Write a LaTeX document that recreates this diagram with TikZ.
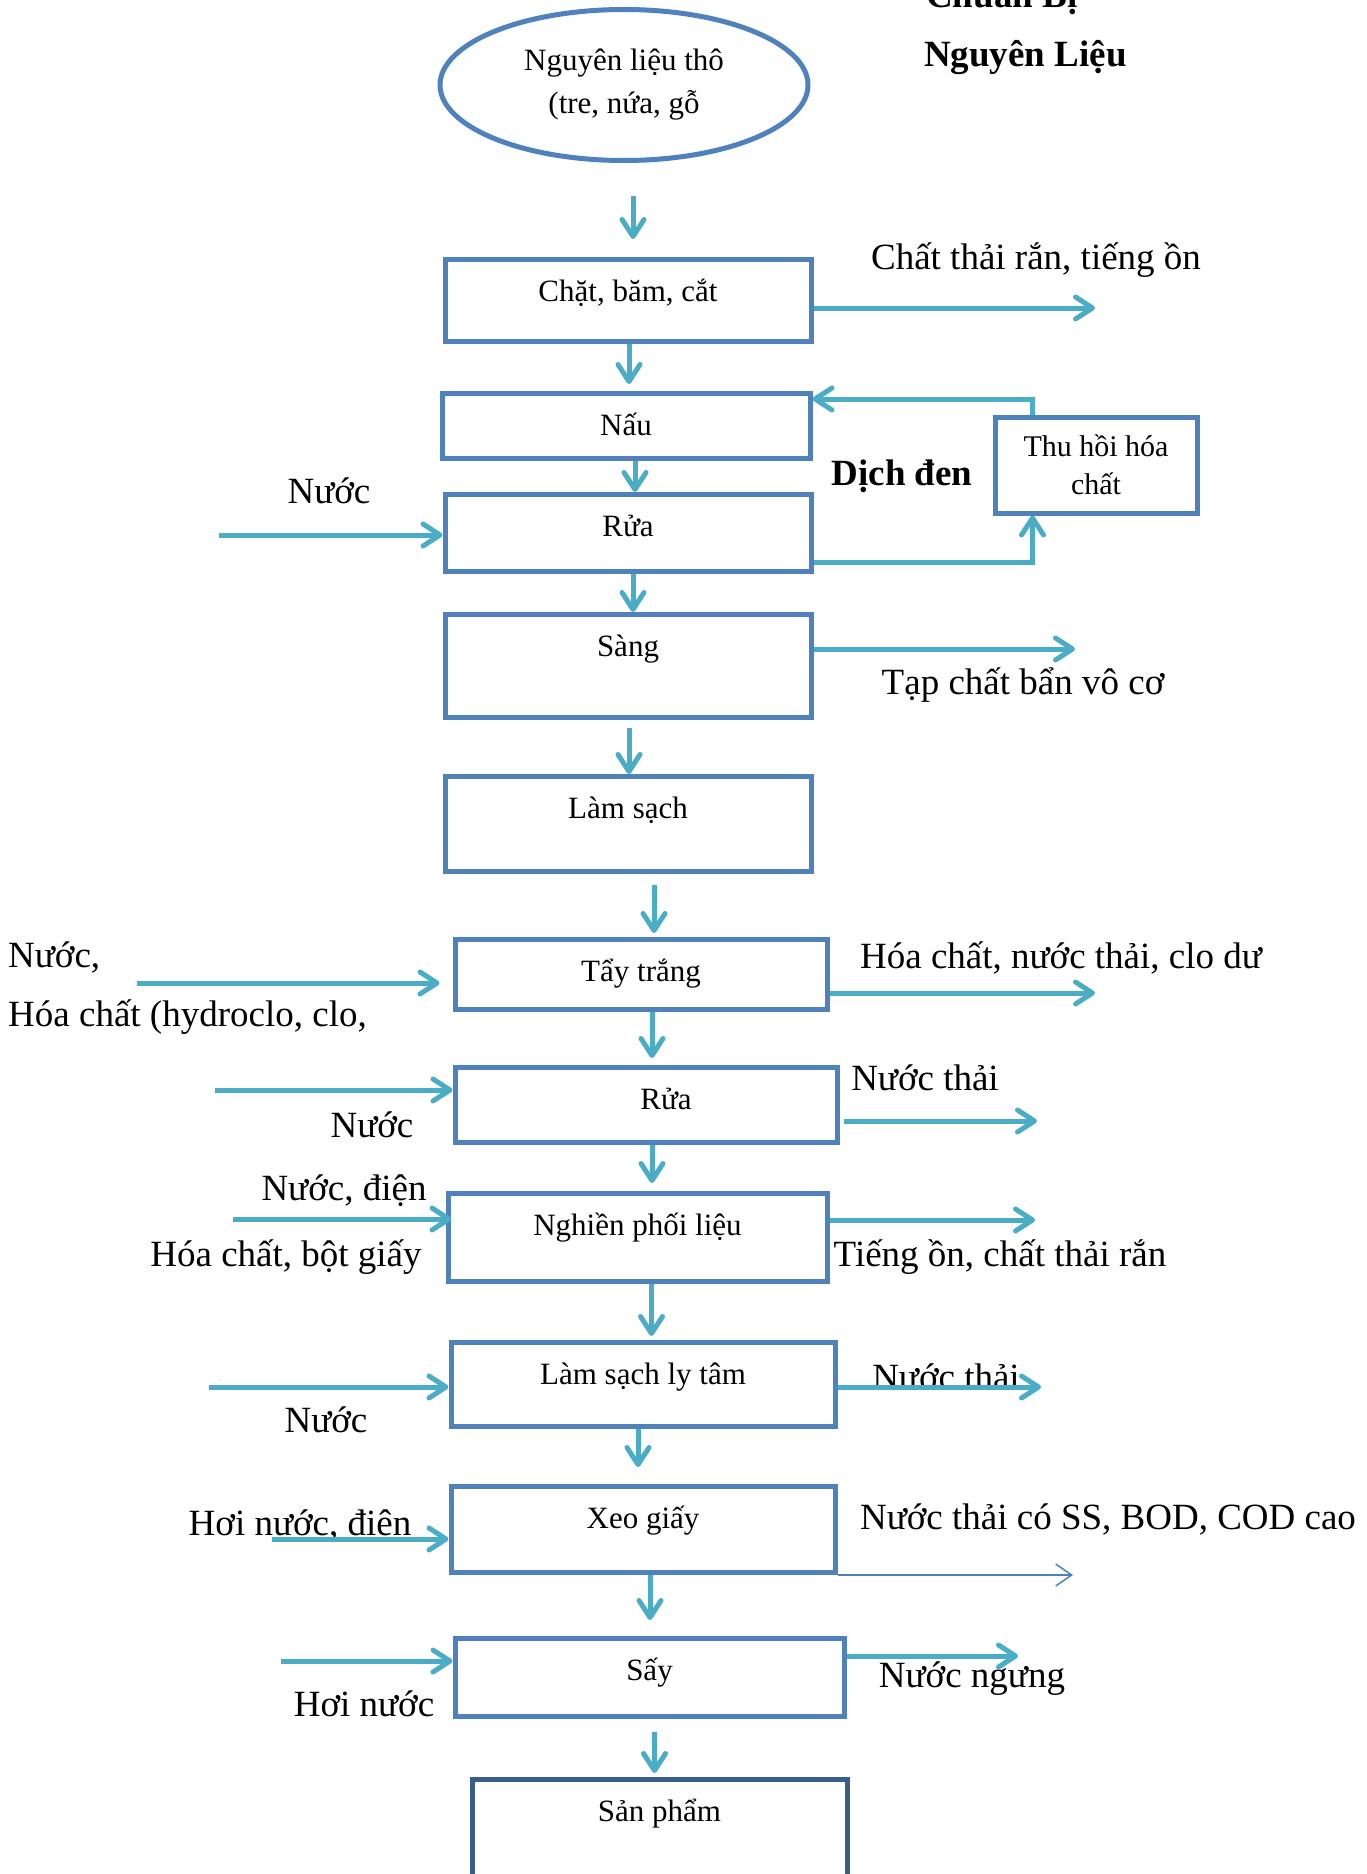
\documentclass[tikz,border=0pt]{standalone}
\usepackage{fontspec}
\setmainfont{Liberation Serif}
\usetikzlibrary{shapes.geometric,arrows.meta}

\definecolor{boxblue}{RGB}{79,129,189}
\definecolor{flowblue}{RGB}{75,172,198}
\definecolor{darkblue}{RGB}{56,93,138}

\tikzset{
  procbox/.style 2 args={draw=boxblue, line width=5pt, minimum width=#1, inner sep=0pt,
    anchor=north, text height=42pt, text depth=#2, font=\fontsize{31}{36}\selectfont},
  rawnode/.style={ellipse, draw=boxblue, line width=5pt, minimum width=368pt,
    minimum height=151pt, inner sep=0pt, align=center, font=\fontsize{31}{43}\selectfont},
  flow/.style={draw=flowblue, line width=5pt, -{Straight Barb[length=17pt,width=22pt,round]}},
  thinflow/.style={draw=boxblue, line width=1.5pt, -{Straight Barb[length=16pt,width=22pt]}},
  lbl/.style={inner sep=0pt, font=\fontsize{37}{44}\selectfont},
  ttl/.style={inner sep=0pt, font=\fontsize{37}{44}\selectfont\bfseries}
}

\begin{document}
\begin{tikzpicture}[x=1pt,y=-1pt]
\fill[white] (0,0) rectangle (1367,1874);
\useasboundingbox (0,0) rectangle (1367,1874);

%title
\node[ttl, anchor=base west] (ttl1) at (926,7) {Chuẩn Bị};
\node[ttl, anchor=base west] (ttl2) at (924,66) {Nguyên Liệu};

\node[rawnode] (raw) at (624,85) {Nguyên liệu thô\\(tre, nứa, gỗ};

%main line
\node[procbox={366pt}{40pt}] (chat) at (628,257) {Chặt, băm, cắt};
\node[procbox={368pt}{23pt}] (nau) at (626,391) {Nấu};
\node[procbox={366pt}{35pt}] (rua1) at (628,492) {Rửa};
\node[procbox={366pt}{61pt}] (sang) at (628,612) {Sàng};
\node[procbox={366pt}{53pt}] (lamsach) at (628,774) {Làm sạch};
\node[procbox={372pt}{28pt}] (taytrang) at (641,937) {Tẩy trắng};
\node[procbox={382pt}{33pt}] (rua2) at (646,1065) {\hspace*{40pt}Rửa};
\node[procbox={379pt}{46pt}] (nghien) at (637.5,1191) {Nghiền phối liệu};
\node[procbox={384pt}{42pt}] (lytam) at (643,1340) {Làm sạch ly tâm};
\node[procbox={384pt}{44pt}] (xeo) at (643,1484) {Xeo giấy};
\node[procbox={389pt}{36pt}] (say) at (649.5,1636) {Sấy};
\node[procbox={375pt}{68pt}, draw=darkblue] (sanpham) at (659.5,1777) {Sản phẩm};

\node[draw=boxblue, line width=5pt, minimum width=202pt, minimum height=96pt, inner sep=0pt,
  align=center, font=\fontsize{30}{38}\selectfont] (thuhoi) at (1096,465) {Thu hồi hóa\\chất};

%labels
\node[lbl] (l1) at (1036,260) {Chất thải rắn, tiếng ồn};
\node[lbl] (l2) at (329,491) {Nước};
\node[ttl] (l3) at (902,476) {Dịch đen};
\node[lbl] (l4) at (1023,685) {Tạp chất bẩn vô cơ};
\node[lbl, anchor=west] (l5) at (8,957) {Nước,};
\node[lbl, anchor=west] (l6) at (8,1017) {Hóa chất (hydroclo, clo,};
\node[lbl] (l7) at (1061,958) {Hóa chất, nước thải, clo dư};
\node[lbl] (l8) at (372,1125) {Nước};
\node[lbl] (l9) at (925,1078) {Nước thải};
\node[lbl] (l10) at (344,1191) {Nước, điện};
\node[lbl] (l11) at (286,1257) {Hóa chất, bột giấy};
\node[lbl] (l12) at (1000,1257) {Tiếng ồn, chất thải rắn};
\node[lbl] (l13) at (326,1420) {Nước};
\node[lbl] (l14) at (946,1377) {Nước thải};
\node[lbl] (l15) at (300,1526) {Hơi nước, điện};
\node[lbl] (l16) at (1108,1519) {Nước thải có SS, BOD, COD cao};
\node[lbl] (l17) at (364,1704) {Hơi nước};
\node[lbl] (l18) at (972,1679) {Nước ngưng};

%down arrows
\draw[flow, shorten <=33pt, shorten >=18pt] ([xshift=9pt]raw.south) -- ([xshift=9pt]raw.south |- chat.north);
\draw[flow, shorten >=7pt] ([xshift=1pt]chat.south) -- ([xshift=1pt]chat.south |- nau.north);
\draw[flow] ([xshift=9pt]nau.south) -- ([xshift=9pt]nau.south |- rua1.north);
\draw[flow] ([xshift=5pt]rua1.south) -- ([xshift=5pt]rua1.south |- sang.north);
\draw[flow, shorten <=8pt] ([xshift=1pt]sang.south) -- ([xshift=1pt]sang.south |- lamsach.north);
\draw[flow, shorten <=11pt, shorten >=4pt] ([xshift=26pt]lamsach.south) -- ([xshift=26pt]lamsach.south |- taytrang.north);
\draw[flow, shorten >=7pt] ([xshift=11pt]taytrang.south) -- ([xshift=11pt]taytrang.south |- rua2.north);
\draw[flow, shorten >=8pt] ([xshift=6pt]rua2.south) -- ([xshift=6pt]rua2.south |- nghien.north);
\draw[flow, shorten >=4pt] ([xshift=14pt]nghien.south) -- ([xshift=14pt]nghien.south |- lytam.north);
\draw[flow, shorten >=17pt] ([xshift=-5pt]lytam.south) -- ([xshift=-5pt]lytam.south |- xeo.north);
\draw[flow, shorten >=16pt] ([xshift=7pt]xeo.south) -- ([xshift=7pt]xeo.south |- say.north);
\draw[flow, shorten <=13pt, shorten >=4pt] ([xshift=5pt]say.south) -- ([xshift=5pt]say.south |- sanpham.north);

%chemical recovery loop
\draw[flow] ([yshift=12pt]rua1.south east) -| ([xshift=40pt]thuhoi.south west);
\draw[flow] ([xshift=40pt]thuhoi.north west) |- ([yshift=-8pt]nau.north east);

%outputs
\coordinate (o1) at (1095,308);
\coordinate (o2) at (1075,649);
\coordinate (o3) at (1095,993);
\coordinate (o4) at (1037,1121);
\coordinate (o5) at (1035,1220);
\coordinate (o6) at (1041,1387);
\coordinate (o7) at (1073,1570);
\coordinate (o8) at (1018,1656);
\draw[flow] (chat.east |- o1) -- (o1);
\draw[flow] (sang.east |- o2) -- (o2);
\draw[flow] (taytrang.east |- o3) -- (o3);
\draw[flow, shorten <=4pt] (rua2.east |- o4) -- (o4);
\draw[flow] (nghien.east |- o5) -- (o5);
\draw[flow] (lytam.east |- o6) -- (o6);
\draw[thinflow] (xeo.south east) -- (xeo.south east -| o7);
\draw[flow] (say.east |- o8) -- (o8);

%inputs
\coordinate (i1) at (219,535);
\coordinate (i2) at (137,983);
\coordinate (i3) at (215,1090);
\coordinate (i4) at (233,1219);
\coordinate (i5) at (209,1387);
\coordinate (i6) at (272,1539);
\coordinate (i7) at (281,1661);
\draw[flow] (i1) -- (rua1.west |- i1);
\draw[flow, shorten >=13pt] (i2) -- (taytrang.west |- i2);
\draw[flow] (i3) -- (rua2.west |- i3);
\draw[flow, shorten >=-6pt] (i4) -- (nghien.west |- i4);
\draw[flow] (i5) -- (lytam.west |- i5);
\draw[flow] (i6) -- (xeo.west |- i6);
\draw[flow] (i7) -- (say.west |- i7);

\end{tikzpicture}
\end{document}
